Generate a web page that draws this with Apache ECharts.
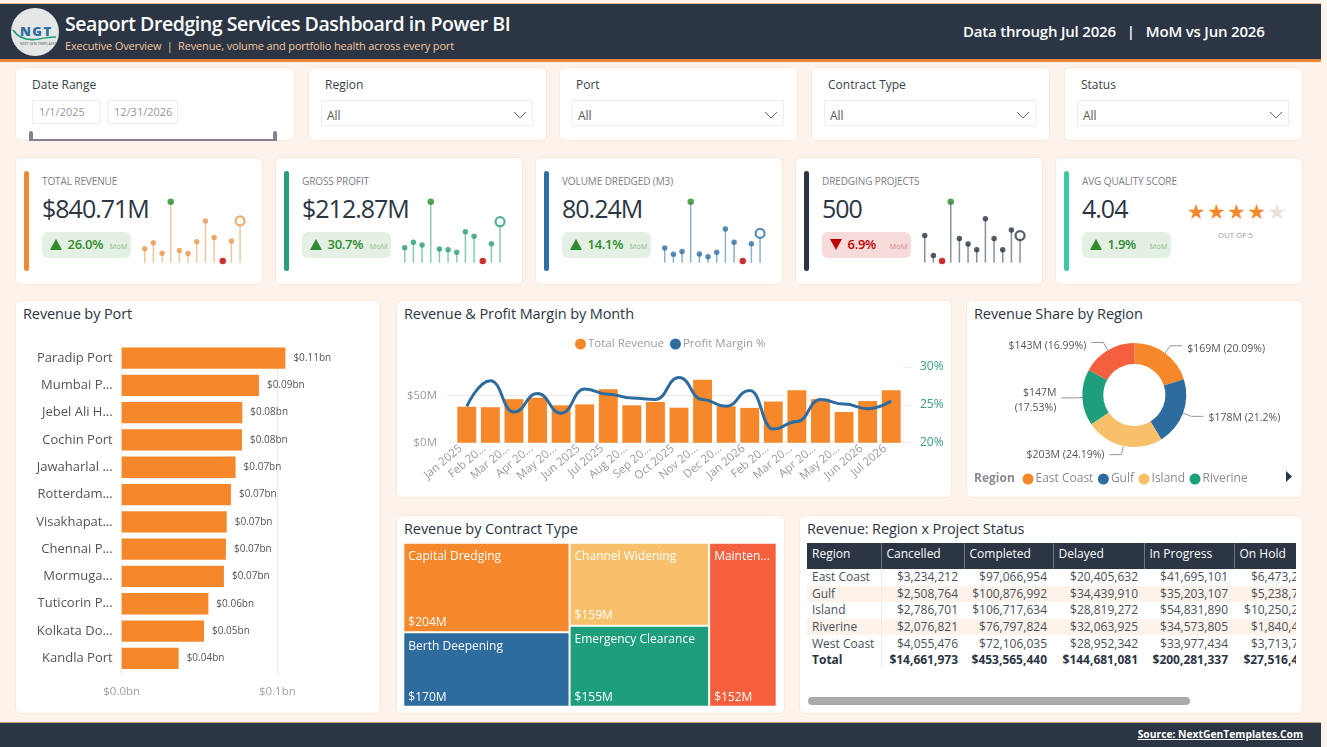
<!DOCTYPE html>
<html>
<head>
<meta charset="utf-8">
<title>Seaport Dredging Services Dashboard</title>
<script src="https://cdn.jsdelivr.net/npm/echarts@6/dist/echarts.min.js"></script>
<style>
  * { box-sizing: border-box; }
  html, body { margin: 0; width: 1327px; height: 747px; overflow: hidden; background: #fdf3ea; font-family: 'Open Sans', sans-serif; color: #2b3544; }
  .abs { position: absolute; white-space: nowrap; }
  .card { position: absolute; background: #fff; border: 1px solid #f8e9dc; border-radius: 6px; }
  .head { left: 0; top: 3px; width: 1321px; height: 56px; background: #2b3544; border-top: 1px solid #e9b98e; }
  .rule { left: 0; top: 59px; width: 1321px; height: 3px; background: #e98a3a; }
  .foot { left: 0; top: 722px; width: 1321px; height: 25px; background: #2b3544; border-top: 1px solid #c9a684; }
  .logo { left: 11px; top: 8px; width: 48px; height: 48px; border-radius: 50%; background: #e4e7e6; overflow: hidden; }
  .filter-name { font-size: 12px; font-weight: 500; color: #3a3f4a; }
  .dropdown { position: absolute; height: 26px; border: 1px solid #eeeeee; font-size: 12px; color: #555; padding: 6px 5px; }
  .dropdown svg { position: absolute; right: 5px; top: 10px; }
  .datebox { position: absolute; top: 100px; height: 24px; border: 1px solid #eeeeee; font-size: 11px; color: #999; padding: 3px 6px; }
  .panel-title { position: absolute; font-size: 14.5px; font-weight: 500; color: #2b3544; white-space: nowrap; letter-spacing: -.1px; }
  .kpi-name { position: absolute; top: 174px; font-size: 10px; color: #7d7d88; letter-spacing: -.1px; white-space: nowrap; }
  .kpi-value { position: absolute; top: 191px; font-size: 25px; line-height: 35px; letter-spacing: -1px; color: #2b3544; white-space: nowrap; }
  .pill { position: absolute; top: 232px; width: 89.5px; height: 26px; border-radius: 6px; }
  .tri { position: absolute; left: 8.5px; top: 7px; width: 0; height: 0; border-left: 6px solid transparent; border-right: 6px solid transparent; }
  .pct { position: absolute; left: 26px; top: 3px; font-size: 13px; font-weight: 600; letter-spacing: -.3px; }
  .mom { position: absolute; left: 68px; top: 9px; font-size: 7.5px; }
  .spark { position: absolute; top: 190px; width: 116px; height: 80px; }
  #stars span { position: absolute; top: 200px; font-size: 21px; line-height: 24px; font-family: 'DejaVu Sans'; }
  table { border-collapse: collapse; table-layout: fixed; font-size: 12px; color: #4a4f5a; }
  th { background: #2b3544; color: #fff; font-weight: 500; height: 26px; text-align: left; padding: 0 5px 6px; border-left: 1px solid #6d7684; }
  th:first-child { border-left: 0; }
  td { height: 16.6px; padding: 0 6px 1px 0; text-align: right; line-height: 15px; white-space: nowrap; overflow: hidden; }
  td:first-child { text-align: left; padding-left: 5px; border-right: 1px solid #f1ece6; }
  tr.alt td { background: #fdf3ea; }
  tr.total td { font-weight: 700; color: #2b3544; }
</style>
</head>
<body>

<div class="abs head"></div>
<div class="abs rule"></div>
<div class="abs logo">
  <div class="abs" style="left:9px;top:14px;font-size:13px;font-weight:800;color:#2e6b9e;letter-spacing:1.5px">NGT</div>
  <svg class="abs" style="left:0;top:0" width="48" height="48"><path d="M2 22 Q10 34 28 31 Q38 29 45 29" fill="none" stroke="#1e9e7a" stroke-width="1.6"/></svg>
  <div class="abs" style="left:9px;top:33px;font-size:3.5px;color:#555">NEXT GEN TEMPLATES</div>
</div>
<div class="abs" id="mainTitle" style="left:65px;top:10px;font-size:19.5px;line-height:28px;font-weight:600;color:#fff;letter-spacing:-.43px">Seaport Dredging Services Dashboard in Power BI</div>
<div class="abs" style="left:65px;top:38px;font-size:11px;line-height:15px;color:#f3c79b;letter-spacing:-.15px">Executive Overview &nbsp;|&nbsp; Revenue, volume and portfolio health across every port</div>
<div class="abs" id="period" style="left:963px;top:20px;font-size:15px;line-height:22px;font-weight:600;color:#fff;letter-spacing:-.2px">Data through Jul 2026<span style="margin:0 11px">|</span>MoM vs Jun 2026</div>

<!-- filtros -->
<div class="card" style="left:15px;top:67px;width:280px;height:74px"></div>
<div class="abs filter-name" style="left:32px;top:76px">Date Range</div>
<div class="datebox" style="left:32px;width:69px">1/1/2025</div>
<div class="datebox" style="left:107px;width:71px">12/31/2026</div>
<div class="abs" style="left:29px;top:139px;width:248px;height:2px;background:#8a7f90"></div>
<div class="abs" style="left:29px;top:131px;width:4px;height:10px;border-radius:2px;background:#8a7f90"></div>
<div class="abs" style="left:273px;top:131px;width:4px;height:10px;border-radius:2px;background:#8a7f90"></div>
<div id="filters"></div>

<!-- kpis -->
<div id="kpis"></div>
<div id="stars"></div>
<div class="abs" style="left:1218px;top:230px;font-size:7.8px;color:#999">OUT OF 5</div>

<!-- paneles -->
<div class="card" style="left:15px;top:300px;width:366px;height:414px"></div>
<div class="panel-title" style="left:23px;top:304px">Revenue by Port</div>
<div class="abs" id="portChart" style="left:15px;top:300px;width:366px;height:414px"></div>

<div class="card" style="left:396px;top:300px;width:556px;height:198px"></div>
<div class="panel-title" style="left:404px;top:304px">Revenue &amp; Profit Margin by Month</div>
<div class="abs" id="monthChart" style="left:396px;top:300px;width:556px;height:198px"></div>

<div class="card" style="left:966px;top:300px;width:337px;height:198px"></div>
<div class="panel-title" style="left:974px;top:304px">Revenue Share by Region</div>
<div class="abs" id="regionChart" style="left:966px;top:300px;width:337px;height:198px"></div>
<div class="abs" style="left:974px;top:469px;font-size:12px;font-weight:700;color:#8a8a94">Region</div>
<svg class="abs" style="left:1286px;top:471px" width="7" height="11"><path d="M0 0 L6 5.5 L0 11 Z" fill="#2b3544"/></svg>

<div class="card" style="left:396px;top:515px;width:389px;height:199px"></div>
<div class="panel-title" style="left:404px;top:519px">Revenue by Contract Type</div>
<div class="abs" id="contractChart" style="left:396px;top:515px;width:389px;height:199px"></div>

<div class="card" style="left:799px;top:515px;width:504px;height:199px"></div>
<div class="panel-title" style="left:807px;top:519px">Revenue: Region x Project Status</div>
<div class="abs" style="left:807px;top:543px;width:489px;height:125px;overflow:hidden">
  <table id="statusTable" style="width:511px"></table>
</div>
<div class="abs" style="left:808px;top:697px;width:382px;height:8px;border-radius:4px;background:#aaaaaa"></div>

<div class="abs foot"></div>
<div class="abs" style="right:24px;top:727px;font-size:10.3px;line-height:15px;font-weight:700;color:#fff;text-decoration:underline">Source: NextGenTemplates.Com</div>

<script>
const FONT = 'Open Sans';

// filtros
const filterNames = ['Region', 'Port', 'Contract Type', 'Status'];
const filterLefts = [308, 559, 811, 1064];

// kpis
const kpiNames = ['TOTAL REVENUE', 'GROSS PROFIT', 'VOLUME DREDGED (M3)', 'DREDGING PROJECTS', 'AVG QUALITY SCORE'];
const kpiValues = ['$840.71M', '$212.87M', '80.24M', '500', '4.04'];
const kpiDeltas = ['26.0%', '30.7%', '14.1%', '6.9%', '1.9%'];
const kpiUp = [true, true, true, false, true];
const kpiColors = ['#e9964f', '#2a9d7c', '#2f6fa3', '#2b3544', '#3cc8a0'];
const barColors = ['#ec8a37', '#2a9d7c', '#2f6fa3', '#2b3544', '#3cc8a0'];
const starValues = [1, 1, 1, 1, 0];

// sparklines, ultimos 12 meses
const revenueSpark = [39.5, 43, 37, 66.5, 38.5, 36.8, 43.5, 55.5, 46, 32.5, 44, 55.5];
const profitSpark = [10.2, 11, 10.6, 17.1, 10, 9.9, 9.5, 12.6, 11.9, 8.2, 10.8, 14.1];
const volumeSpark = [3.57, 3.1, 3.3, 7, 3.12, 2.92, 3.25, 4.97, 3.99, 2.6, 3.89, 4.65];
const projectSpark = [27, 20, 18, 39, 26, 24, 22, 33, 26, 22, 29, 27];

// revenue by port
const portLabels = ['Paradip Port', 'Mumbai P...', 'Jebel Ali H...', 'Cochin Port', 'Jawaharlal ...', 'Rotterdam...', 'Visakhapat...', 'Chennai P...', 'Mormuga...', 'Tuticorin P...', 'Kolkata Do...', 'Kandla Port'];
const portValues = [0.1052, 0.0882, 0.0775, 0.0773, 0.0732, 0.0702, 0.0675, 0.067, 0.0657, 0.0557, 0.0529, 0.0366];

// revenue & margin
const monthLabels = ['Jan 2025', 'Feb 20...', 'Mar 20...', 'Apr 20...', 'May 20...', 'Jun 2025', 'Jul 2025', 'Aug 20...', 'Sep 20...', 'Oct 2025', 'Nov 20...', 'Dec 20...', 'Jan 2026', 'Feb 20...', 'Mar 20...', 'Apr 20...', 'May 20...', 'Jun 2026', 'Jul 2026'];
const monthRevenue = [38, 37.5, 46, 47.5, 39.5, 40.5, 56.5, 39.5, 43, 37, 66.5, 38.5, 36.8, 43.5, 55.5, 46, 32.5, 44, 55.5];
const monthMargin = [24.8, 28.2, 24.05, 26.5, 23.9, 27.1, 26.4, 25.9, 25.7, 28.6, 25.7, 24.8, 26.9, 21.8, 22.8, 25.7, 25.1, 24.5, 25.5];

// region share
const regionNames = ['East Coast', 'Gulf', 'Island', 'Riverine', 'West Coast'];
const regionValues = [168.9, 178.2, 203.4, 147.4, 142.8];
const regionLabels = ['$169M (20.09%)', '$178M (21.2%)', '$203M (24.19%)', '$147M\n(17.53%)', '$143M (16.99%)'];
const regionColors = ['#f5882a', '#2e6b9e', '#f8c06a', '#1e9e7a', '#f4603d'];
const regionLabelShift = [3, 2, 0, 3, 4];

// contract type
const contractNames = ['Capital Dredging', 'Berth Deepening', 'Channel Widening', 'Emergency Clearance', 'Mainten...'];
const contractValues = [204, 170, 159, 155, 152];
const contractColors = ['#f5882a', '#2e6b9e', '#f8c06a', '#1e9e7a', '#f4603d'];
const contractLabelGaps = [52, 37.6, 45, 44, 126.6];

// tabla
const statusHeaders = ['Region', 'Cancelled', 'Completed', 'Delayed', 'In Progress', 'On Hold'];
const statusRegions = ['East Coast', 'Gulf', 'Island', 'Riverine', 'West Coast', 'Total'];
const cancelled = ['$3,234,212', '$2,508,764', '$2,786,701', '$2,076,821', '$4,055,476', '$14,661,973'];
const completed = ['$97,066,954', '$100,876,992', '$106,717,634', '$76,797,824', '$72,106,035', '$453,565,440'];
const delayed = ['$20,405,632', '$34,439,910', '$28,819,272', '$32,063,925', '$28,952,342', '$144,681,081'];
const inProgress = ['$41,695,101', '$35,203,107', '$54,831,890', '$34,573,805', '$33,977,434', '$200,281,337'];
const onHold = ['$6,473,248', '$5,238,760', '$10,250,215', '$1,840,432', '$3,713,745', '$27,516,400'];
const columnWidths = [74, 83, 89, 91, 90, 84];

// filtros dropdown
filterNames.forEach((name, i) => {
  const x = filterLefts[i];
  document.getElementById('filters').innerHTML += `
    <div class="card" style="left:${x}px;top:67px;width:239px;height:74px"></div>
    <div class="abs filter-name" style="left:${x + 17}px;top:76px">${name}</div>
    <div class="dropdown" style="left:${x + 13}px;top:100px;width:212px">All
      <svg width="14" height="8"><path d="M1 1 L7 7 L13 1" fill="none" stroke="#666" stroke-width="1"/></svg>
    </div>`;
});

// tarjetas kpi
kpiNames.forEach((name, i) => {
  const x = 15 + 260 * i;
  const c = kpiUp[i] ? '#2e8b2e' : '#c00000';
  document.getElementById('kpis').innerHTML += `
    <div class="card" style="left:${x}px;top:157px;width:248px;height:128px"></div>
    <div class="abs" style="left:${x + 9}px;top:171px;width:5px;height:100px;border-radius:3px;background:${barColors[i]}"></div>
    <div class="kpi-name" style="left:${x + 27}px">${name}</div>
    <div class="kpi-value" style="left:${x + 27}px">${kpiValues[i]}</div>
    <div class="pill" style="left:${x + 26.5}px;background:${kpiUp[i] ? '#e3f0e3' : '#f7dada'}">
      <div class="tri" style="${kpiUp[i] ? 'border-bottom' : 'border-top'}:11px solid ${c}"></div>
      <div class="pct" style="color:${c}">${kpiDeltas[i]}</div>
      <div class="mom" style="color:${kpiUp[i] ? '#8dbb8d' : '#d68a8a'}">MoM</div>
    </div>`;
});
starValues.forEach((on, i) => {
  document.getElementById('stars').innerHTML += `<span style="left:${1186.7 + i * 20.2}px;color:${on ? '#f5882a' : '#e6e1da'}">★</span>`;
});

// tabla
let html = '<colgroup>' + columnWidths.map(w => `<col style="width:${w}px">`).join('') + '</colgroup>';
html += '<tr>' + statusHeaders.map(h => `<th>${h}</th>`).join('') + '</tr>';
html += '<tr><td colspan="6" style="height:0;padding:0;border:0;line-height:0"></td></tr>';
statusRegions.forEach((r, i) => {
  const cls = i === 5 ? 'total' : (i % 2 === 1 ? 'alt' : '');
  html += `<tr class="${cls}"><td>${r}</td><td>${cancelled[i]}</td><td>${completed[i]}</td><td>${delayed[i]}</td><td>${inProgress[i]}</td><td>${onHold[i]}</td></tr>`;
});
document.getElementById('statusTable').innerHTML = html;

// lollipops
function drawSpark(index, values) {
  const el = document.createElement('div');
  el.className = 'spark';
  el.style.left = (136 + 260 * index) + 'px';
  document.body.appendChild(el);
  const color = kpiColors[index];
  const hi = Math.max(...values);
  const lo = Math.min(...values);
  const hiAt = values.indexOf(hi);
  const loAt = values.indexOf(lo);
  const last = values.length - 1;
  const chart = echarts.init(el);
  chart.setOption({
    animation: false,
    grid: { left: 4.4, width: 104, top: 11.7, height: 61 },
    xAxis: { type: 'category', show: false, data: values.map((v, i) => i) },
    yAxis: { type: 'value', show: false, min: lo - (hi - lo) * 0.028, max: hi },
    series: [
      { type: 'bar', barWidth: 1.5, data: values, itemStyle: { color: color, opacity: 0.55 } },
      {
        type: 'scatter',
        z: 5,
        data: values.map((v, i) => {
          if (i === last) return { value: v, symbolSize: 9, itemStyle: { color: '#fff', borderColor: color, borderWidth: 2.2 } };
          if (i === hiAt) return { value: v, symbolSize: 6.5, itemStyle: { color: '#2a8a2a' } };
          if (i === loAt) return { value: v, symbolSize: 6.5, itemStyle: { color: '#c00000' } };
          return { value: v, symbolSize: 5.5, itemStyle: { color: color } };
        })
      }
    ]
  });
}
[revenueSpark, profitSpark, volumeSpark, projectSpark].forEach((v, i) => drawSpark(i, v));

// revenue by port
echarts.init(document.getElementById('portChart')).setOption({
  animation: false,
  grid: { left: 106.7, top: 44.4, width: 233.4, height: 327.6 },
  xAxis: {
    type: 'value', min: 0, max: 0.15, interval: 0.1,
    axisLine: { show: false },
    axisTick: { show: true, length: 4, lineStyle: { color: '#f3ebe3' } },
    splitLine: { showMaxLine: false, lineStyle: { color: '#f3ebe3' } },
    axisLabel: { color: '#a0a0a8', fontFamily: FONT, fontSize: 11.5, margin: 14, showMaxLabel: false, formatter: v => '$' + v.toFixed(1) + 'bn' }
  },
  yAxis: {
    type: 'category', inverse: true, data: portLabels,
    axisLine: { show: false }, axisTick: { show: false },
    axisLabel: { color: '#555', fontFamily: FONT, fontSize: 13, margin: 9 }
  },
  series: [{
    type: 'bar', data: portValues, barWidth: 21.3, itemStyle: { color: '#f5882a' },
    label: { show: true, position: 'right', distance: 8, color: '#555', fontFamily: FONT, fontSize: 10, formatter: p => '$' + p.value.toFixed(2) + 'bn' }
  }]
});

// revenue & margin
echarts.init(document.getElementById('monthChart')).setOption({
  animation: false,
  legend: {
    left: 179, top: 38, padding: 0, itemWidth: 11, itemHeight: 11, itemGap: 6, icon: 'circle', selectedMode: false,
    textStyle: { color: '#9a9aa2', fontFamily: FONT, fontSize: 11.5, padding: [0, 0, 0, -3] }
  },
  grid: { left: 59, width: 448, top: 67, height: 75.7 },
  xAxis: {
    type: 'category', data: monthLabels,
    axisLine: { show: false }, axisTick: { show: false },
    axisLabel: { interval: 0, rotate: 40, color: '#9a9aa2', fontFamily: FONT, fontSize: 11.5, margin: 7, verticalAlign: 'bottom', padding: [0, 3, 0, 0] }
  },
  yAxis: [
    {
      type: 'value', min: 0, max: 80, interval: 50,
      axisLine: { show: false },
      axisTick: { show: true, length: 8, lineStyle: { color: '#f3ebe3' } },
      splitLine: { showMaxLine: false, lineStyle: { color: '#f3ebe3' } },
      axisLabel: { color: '#9a9aa2', fontFamily: FONT, fontSize: 11.5, showMaxLabel: false, margin: 18, formatter: v => '$' + v + 'M' }
    },
    {
      type: 'value', min: 20, max: 30, interval: 5,
      axisLine: { show: false },
      axisTick: { show: true, length: 8, lineStyle: { color: '#f3ebe3' } },
      splitLine: { show: false },
      axisLabel: { color: '#3a9d85', fontFamily: FONT, fontSize: 12, margin: 17, formatter: v => v + '%' }
    }
  ],
  series: [
    { name: 'Total Revenue', type: 'bar', data: monthRevenue, barWidth: 18.9, itemStyle: { color: '#f5882a' } },
    { name: 'Profit Margin %', type: 'line', yAxisIndex: 1, data: monthMargin, smooth: 0.5, smoothMonotone: 'x', showSymbol: false, symbol: 'circle', lineStyle: { color: '#2e6b9e', width: 3 }, itemStyle: { color: '#2e6b9e' } }
  ]
});

// region share
echarts.init(document.getElementById('regionChart')).setOption({
  animation: false,
  legend: {
    left: 56.5, top: 173, padding: 0, itemWidth: 11, itemHeight: 11, itemGap: 4.5, icon: 'circle', selectedMode: false,
    data: regionNames.slice(0, 4),
    textStyle: { color: '#8a8a94', fontFamily: FONT, fontSize: 12, padding: [0, 0, 0, -3] }
  },
  series: [{
    type: 'pie', center: [168.3, 95], radius: [31, 52], startAngle: 90,
    itemStyle: { borderColor: '#fff', borderWidth: 0 },
    label: { color: '#555', fontFamily: FONT, fontSize: 10.5, lineHeight: 15, formatter: p => regionLabels[p.dataIndex] },
    labelLine: { length: 9, length2: 12, lineStyle: { color: '#999', width: 1 } },
    labelLayout: p => ({ dy: regionLabelShift[p.dataIndex] }),
    data: regionNames.map((name, i) => ({ name, value: regionValues[i], itemStyle: { color: regionColors[i] } }))
  }]
});

// contract type
function contractLeaf(i) {
  return {
    name: contractNames[i],
    value: contractValues[i],
    itemStyle: { color: contractColors[i] },
    label: {
      formatter: '{n|' + contractNames[i] + '}\n{g| }\n{n|$' + contractValues[i] + 'M}',
      rich: { n: { color: '#fff', fontFamily: FONT, fontSize: 12, lineHeight: 14 }, g: { lineHeight: contractLabelGaps[i], fontSize: 1 } }
    }
  };
}
echarts.init(document.getElementById('contractChart')).setOption({
  animation: false,
  series: [{
    type: 'treemap',
    left: 8.3, top: 28.7, width: 371.4, height: 162,
    squareRatio: 1.15,
    roam: false, nodeClick: false, breadcrumb: { show: false },
    itemStyle: { borderWidth: 0, gapWidth: 2, borderColor: '#fff' },
    label: { show: true, position: 'insideTopLeft', padding: [6, 4, 0, 4], distance: 0 },
    data: [
      { name: 'a', value: 374, children: [contractLeaf(0), contractLeaf(1)] },
      { name: 'b', value: 314, children: [contractLeaf(2), contractLeaf(3)] },
      contractLeaf(4)
    ]
  }]
});
</script>
</body>
</html>
